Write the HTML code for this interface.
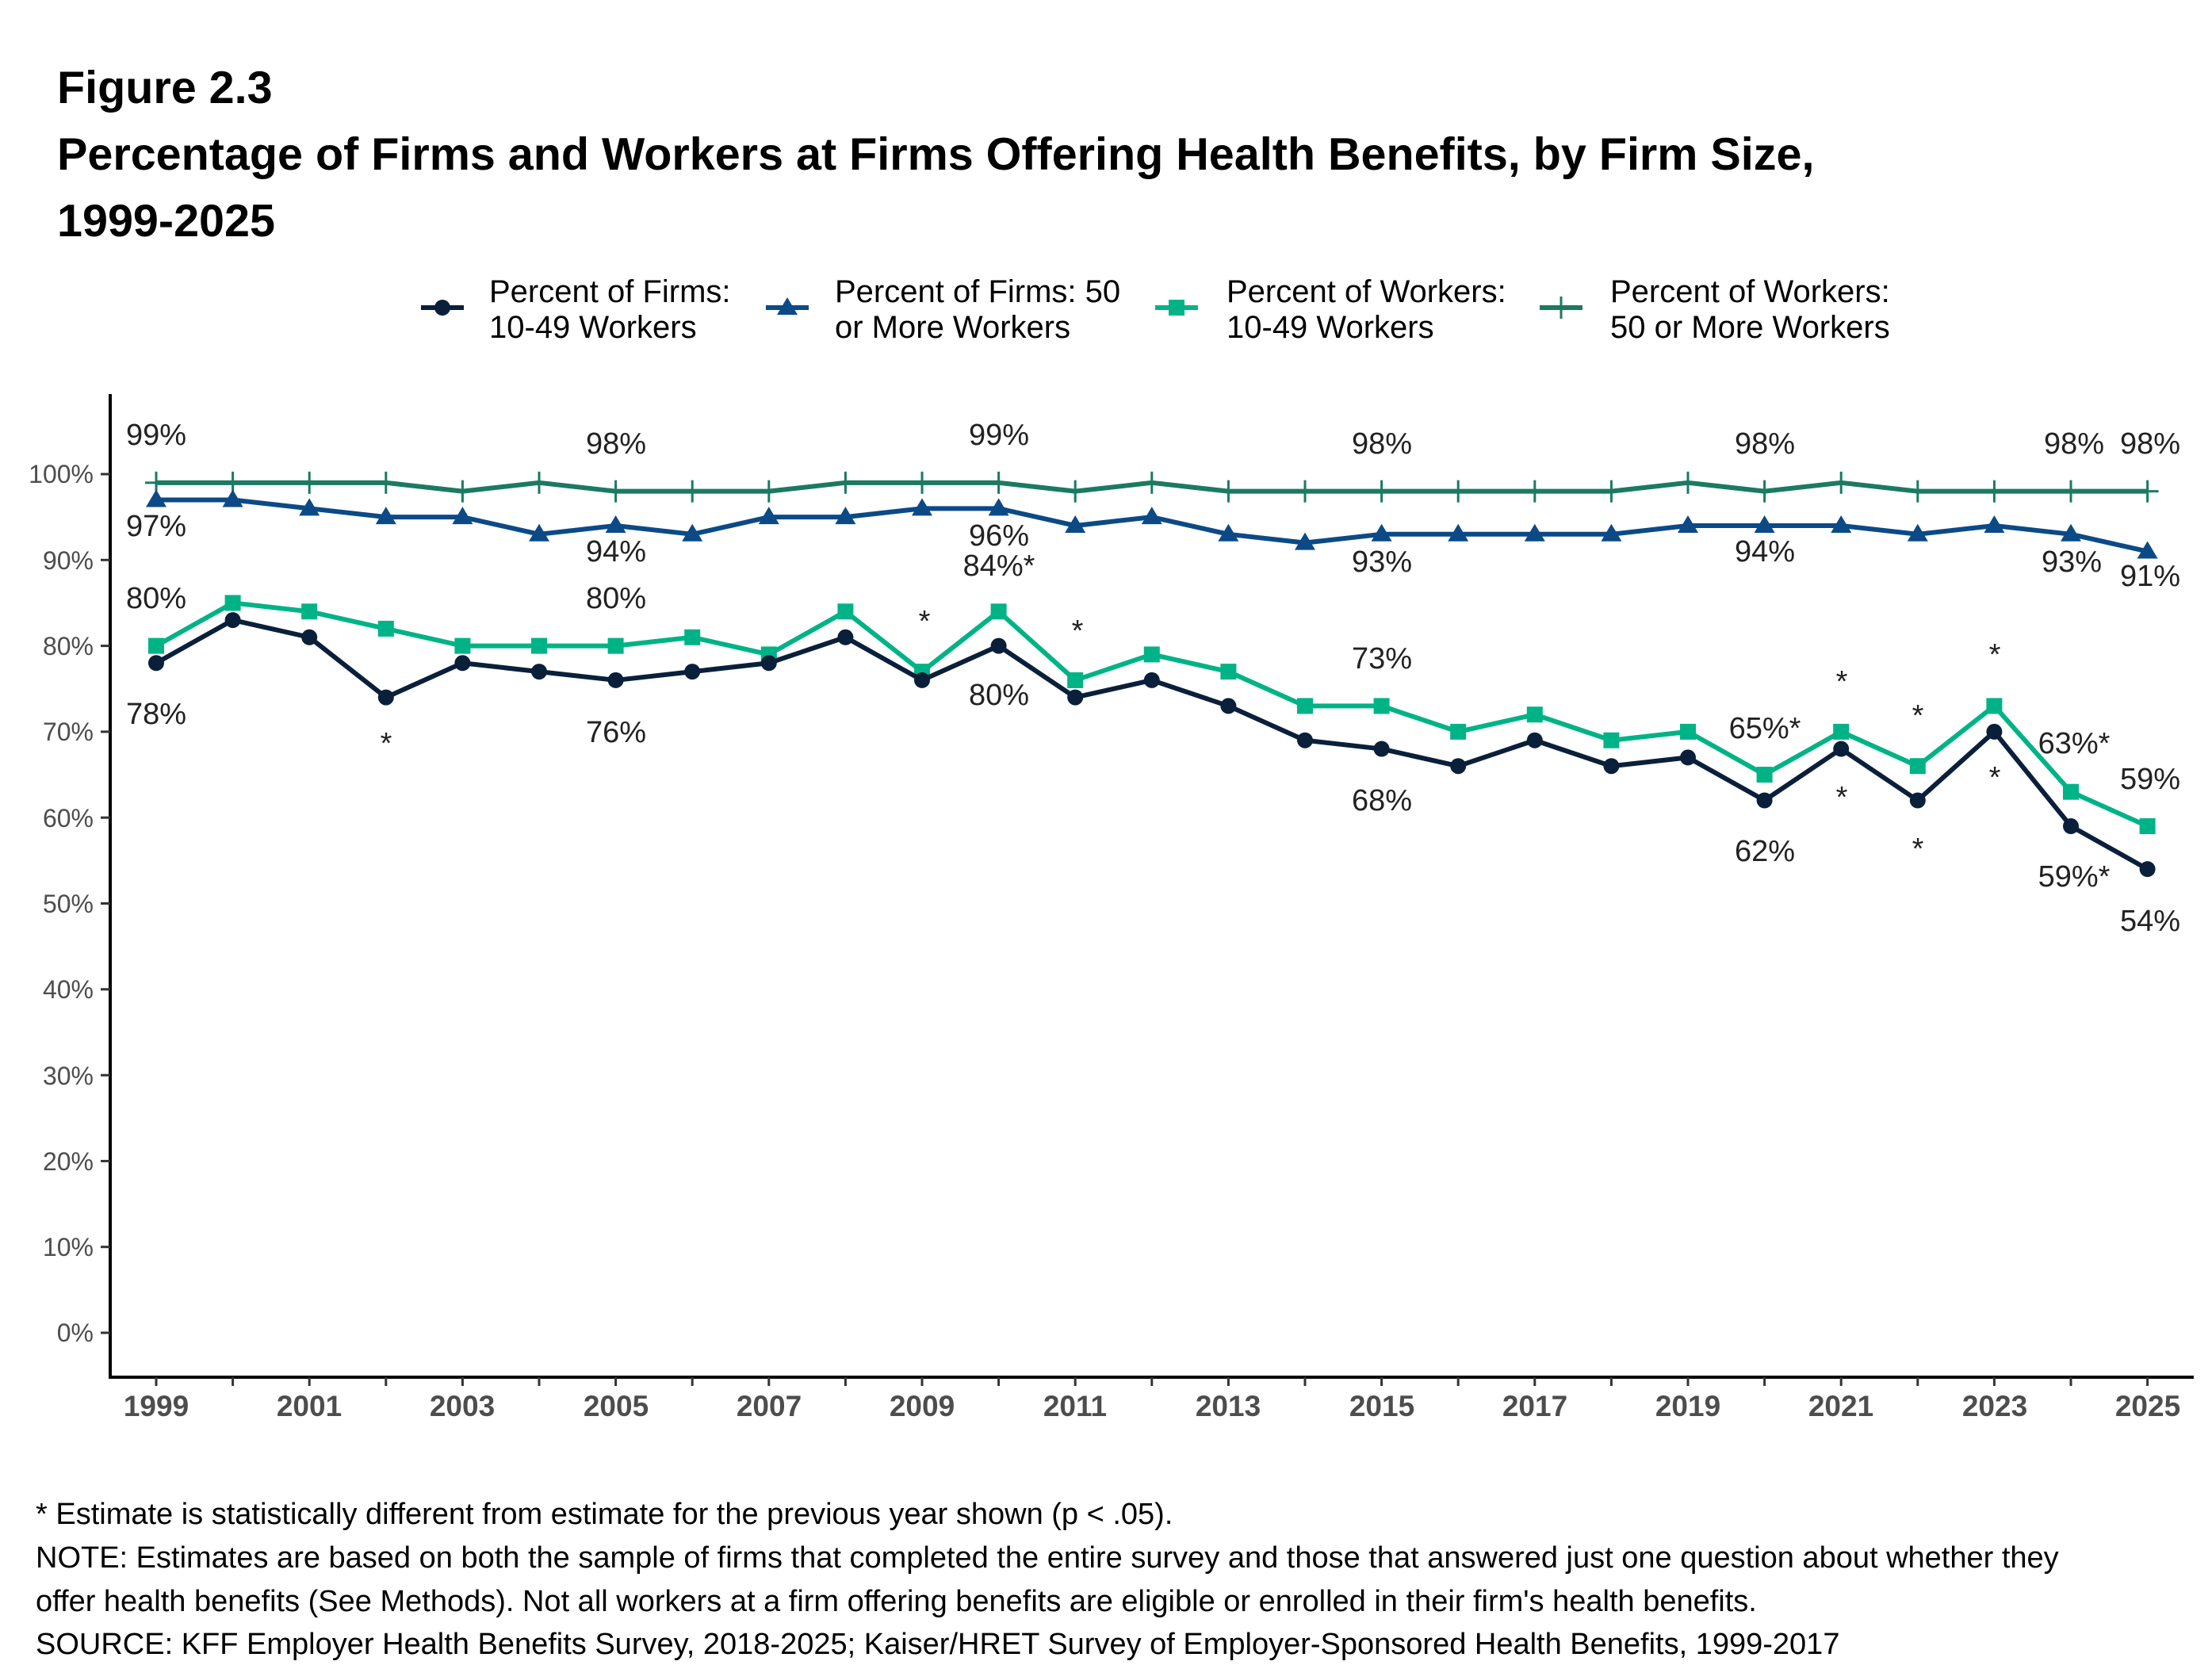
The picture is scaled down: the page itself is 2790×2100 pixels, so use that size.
<!DOCTYPE html>
<html><head><meta charset="utf-8"><style>
body{margin:0;background:#fff;}
svg{display:block;font-family:"Liberation Sans",Arial,sans-serif;}
.t{font-weight:bold;font-size:57.5px;fill:#000}
.lg{font-size:40px;fill:#000}
.yt{font-size:32px;fill:#4d4d4d;text-anchor:end}
.xt{font-size:37px;font-weight:bold;fill:#4d4d4d;text-anchor:middle}
.dl{font-size:38px;fill:#222;text-anchor:middle;dominant-baseline:central}
.fn{font-size:38px;fill:#000}
</style></head><body>
<svg id="s" width="2790" height="2100" viewBox="0 0 2790 2100" xmlns="http://www.w3.org/2000/svg">
<text class="t" x="72" y="130">Figure 2.3</text>
<text class="t" x="72" y="214">Percentage of Firms and Workers at Firms Offering Health Benefits, by Firm Size,</text>
<text class="t" x="72" y="298">1999-2025</text>

<g class="lg">
<text x="617" y="381">Percent of Firms:</text><text x="617" y="426">10-49 Workers</text>
<text x="1053" y="381">Percent of Firms: 50</text><text x="1053" y="426">or More Workers</text>
<text x="1547" y="381">Percent of Workers:</text><text x="1547" y="426">10-49 Workers</text>
<text x="2031" y="381">Percent of Workers:</text><text x="2031" y="426">50 or More Workers</text>
</g>
<g id="legm"></g>

<g class="yt">
<text x="118" y="609">100%</text><text x="118" y="718">90%</text><text x="118" y="826">80%</text>
<text x="118" y="934">70%</text><text x="118" y="1043">60%</text><text x="118" y="1151">50%</text>
<text x="118" y="1259">40%</text><text x="118" y="1368">30%</text><text x="118" y="1476">20%</text>
<text x="118" y="1584">10%</text><text x="118" y="1692">0%</text>
</g>
<g class="xt">
<text x="197" y="1786">1999</text><text x="390" y="1786">2001</text><text x="583" y="1786">2003</text>
<text x="777" y="1786">2005</text><text x="970" y="1786">2007</text><text x="1163" y="1786">2009</text>
<text x="1356" y="1786">2011</text><text x="1549" y="1786">2013</text><text x="1743" y="1786">2015</text>
<text x="1936" y="1786">2017</text><text x="2129" y="1786">2019</text><text x="2322" y="1786">2021</text>
<text x="2516" y="1786">2023</text><text x="2709" y="1786">2025</text>
</g>
<g id="axes"></g>
<g id="series"></g>

<g class="dl">
<text x="197" y="549">99%</text><text x="197" y="664">97%</text><text x="197" y="755">80%</text><text x="197" y="901">78%</text>
<text x="777" y="560">98%</text><text x="777" y="696">94%</text><text x="777" y="755">80%</text><text x="777" y="924">76%</text>
<text x="1260" y="549">99%</text><text x="1260" y="676">96%</text><text x="1260" y="714">84%*</text><text x="1260" y="877">80%</text>
<text x="1743" y="560">98%</text><text x="1743" y="709">93%</text><text x="1743" y="831">73%</text><text x="1743" y="1010">68%</text>
<text x="2226" y="560">98%</text><text x="2226" y="696">94%</text><text x="2226" y="919">65%*</text><text x="2226" y="1074">62%</text>
<text x="2616" y="560">98%</text><text x="2613" y="709">93%</text><text x="2616" y="938">63%*</text><text x="2616" y="1106">59%*</text>
<text x="2712" y="560">98%</text><text x="2712" y="727">91%</text><text x="2712" y="983">59%</text><text x="2712" y="1162">54%</text>
<text x="487" y="938">*</text><text x="1166" y="784">*</text><text x="1359" y="796">*</text>
<text x="2323" y="860">*</text><text x="2323" y="1006">*</text>
<text x="2419" y="903">*</text><text x="2419" y="1071">*</text>
<text x="2516" y="826">*</text><text x="2516" y="981">*</text>
</g>

<g class="fn">
<text x="45" y="1922">* Estimate is statistically different from estimate for the previous year shown (p &lt; .05).</text>
<text x="45" y="1977">NOTE: Estimates are based on both the sample of firms that completed the entire survey and those that answered just one question about whether they</text>
<text x="45" y="2032">offer health benefits (See Methods). Not all workers at a firm offering benefits are eligible or enrolled in their firm's health benefits.</text>
<text x="45" y="2086">SOURCE: KFF Employer Health Benefits Survey, 2018-2025; Kaiser/HRET Survey of Employer-Sponsored Health Benefits, 1999-2017</text>
</g>
</svg>
<script>
const NS="http://www.w3.org/2000/svg";
function el(p,n,a){const e=document.createElementNS(NS,n);for(const k in a)e.setAttribute(k,a[k]);p.appendChild(e);return e;}
const X=i=>197+96.6*i, Y=v=>1681-10.83*v;
const ax=document.getElementById('axes');
el(ax,'line',{x1:139,y1:497,x2:139,y2:1739,stroke:'#000','stroke-width':4});
el(ax,'line',{x1:137,y1:1737,x2:2767,y2:1737,stroke:'#000','stroke-width':4});
for(let v=0;v<=100;v+=10)el(ax,'line',{x1:127,y1:Y(v),x2:139,y2:Y(v),stroke:'#333','stroke-width':3});
for(let i=0;i<27;i++)el(ax,'line',{x1:X(i),y1:1737,x2:X(i),y2:1748,stroke:'#333','stroke-width':3});
const S=[
{c:'#1a7a62',m:'plus',d:[99,99,99,99,98,99,98,98,98,99,99,99,98,99,98,98,98,98,98,98,99,98,99,98,98,98,98]},
{c:'#0b4a86',m:'tri',d:[97,97,96,95,95,93,94,93,95,95,96,96,94,95,93,92,93,93,93,93,94,94,94,93,94,93,91]},
{c:'#00b386',m:'sq',d:[80,85,84,82,80,80,80,81,79,84,77,84,76,79,77,73,73,70,72,69,70,65,70,66,73,63,59]},
{c:'#0a1f3a',m:'dot',d:[78,83,81,74,78,77,76,77,78,81,76,80,74,76,73,69,68,66,69,66,67,62,68,62,70,59,54]}];
function mk(g,t,x,y,c){
 if(t=='dot')el(g,'circle',{cx:x,cy:y,r:10,fill:c});
 else if(t=='sq')el(g,'rect',{x:x-10,y:y-10,width:20,height:20,fill:c});
 else if(t=='tri')el(g,'polygon',{points:`${x},${y-13} ${x-13},${y+9} ${x+13},${y+9}`,fill:c});
 else{el(g,'line',{x1:x-14,y1:y,x2:x+14,y2:y,stroke:c,'stroke-width':3});el(g,'line',{x1:x,y1:y-14,x2:x,y2:y+14,stroke:c,'stroke-width':3});}
}
const sg=document.getElementById('series');
S.forEach(s=>{
 el(sg,'polyline',{points:s.d.map((v,i)=>X(i)+','+Y(v)).join(' '),fill:'none',stroke:s.c,'stroke-width':6,'stroke-linejoin':'round'});
 s.d.forEach((v,i)=>mk(sg,s.m,X(i),Y(v),s.c));
});
const lm=document.getElementById('legm');
[[531,3],[966,1],[1457,2],[1942,0]].forEach(([x,k])=>{
 el(lm,'line',{x1:x,y1:388,x2:x+54,y2:388,stroke:S[k].c,'stroke-width':6});
 mk(lm,S[k].m,x+27,388,S[k].c);
});
</script>
</body></html>
